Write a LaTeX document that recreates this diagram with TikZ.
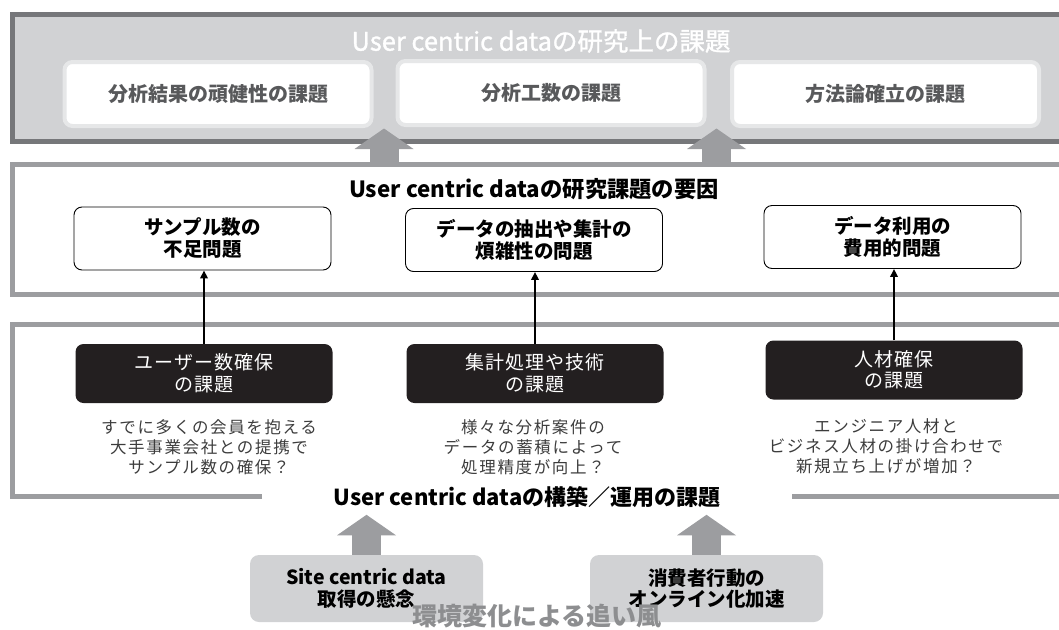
\documentclass[tikz,border=0pt]{standalone}
\usepackage{fontspec}
\setmainfont{Noto Sans CJK JP}
\usetikzlibrary{arrows.meta}
\definecolor{topframe}{HTML}{76777A}
\definecolor{topfill}{HTML}{D1D2D4}
\definecolor{frame}{HTML}{9C9DA0}
\definecolor{boxedge}{HTML}{E6E7E8}
\definecolor{toptext}{HTML}{58595B}
\definecolor{issuefill}{HTML}{231F20}
\definecolor{notetext}{HTML}{3C3C3C}
\definecolor{windtext}{HTML}{8D8E90}
\tikzstyle{panel}=[line width=5pt,draw=frame]
\tikzstyle{topbox}=[rounded corners=8pt,draw=boxedge,line width=4pt,fill=white,minimum width=307pt,minimum height=64pt,text=toptext,font=\fontsize{20}{24}\selectfont\bfseries]
\tikzstyle{cause}=[rounded corners=8pt,draw=black,line width=0.9pt,fill=white,minimum width=257pt,minimum height=63pt,align=center,font=\fontsize{19.5}{22}\selectfont\bfseries]
\tikzstyle{issue}=[rounded corners=8pt,fill=issuefill,minimum width=257pt,minimum height=59pt,align=center,text=white,font=\fontsize{19}{21.5}\selectfont\addfontfeatures{LetterSpace=5}]
\tikzstyle{note}=[align=center,text=notetext,font=\fontsize{16.5}{20}\selectfont\addfontfeatures{LetterSpace=10}]
\tikzstyle{wind}=[rounded corners=9pt,fill=topfill,minimum width=233pt,minimum height=67pt,align=center,font=\fontsize{19.5}{21.5}\selectfont\bfseries]
\tikzstyle{bigarrow}=[draw=frame,line width=29pt,-{Triangle[width=59pt,length=20.5pt,line width=0pt]}]
\tikzstyle{thin}=[line width=1.8pt,-{Triangle[width=7.5pt,length=8pt]}]

\begin{document}
\begin{tikzpicture}[x=1pt,y=-1pt]
			\useasboundingbox (0,0) rectangle (1059,629);
			
			% research issues
			\fill [topfill] (12.5,14.5) rectangle (1062,141.5);
			\draw [panel,draw=topframe] (1062,14.5) -- (12.5,14.5) -- (12.5,141.5) -- (1062,141.5);
			\node (restitle) at (541,41) [text=white,font=\fontsize{25.5}{30}\selectfont\addfontfeatures{FakeBold=1.2}] {User centric dataの研究上の課題};
			\node (res1) at (218,94) [topbox] {分析結果の頑健性の課題};
			\node (res2) at (551,93) [topbox] {分析工数の課題};
			\node (res3) at (885.5,94) [topbox] {方法論確立の課題};
			
			% causes
			\draw [panel] (1062,164.5) -- (12.5,164.5) -- (12.5,294.5) -- (1062,294.5);
			\node (causetitle) at (534,189) [font=\fontsize{22.3}{26}\selectfont\bfseries] {User centric dataの研究課題の要因};
			\node (cause1) at (202.5,238.5) [cause] {サンプル数の\\不足問題};
			\node (cause2) at (534,240) [cause] {データの抽出や集計の\\煩雑性の問題};
			\node (cause3) at (892.5,237) [cause] {データ利用の\\費用的問題};
			
			% build / operation issues
			\draw [panel] (262,496.5) -- (12.5,496.5) -- (12.5,324) -- (1062,324);
			\draw [panel] (792,496.5) -- (1062,496.5);
			\node (buildtitle) at (527,497) [font=\fontsize{22}{26}\selectfont\bfseries] {User centric dataの構築／運用の課題};
			\node (iss1) at (204,373.5) [issue] {ユーザー数確保\\の課題};
			\node (iss2) at (535,373.5) [issue] {集計処理や技術\\の課題};
			\node (iss3) at (894,370) [issue] {人材確保\\の課題};
			\node (note1) at (209,447) [note] {すでに多くの会員を抱える\\大手事業会社との提携で\\サンプル数の確保？};
			\node (note2) at (533,447) [note] {様々な分析案件の\\データの蓄積によって\\処理精度が向上？};
			\node (note3) at (886,446) [note] {エンジニア人材と\\ビジネス人材の掛け合わせで\\新規立ち上げが増加？};
			
			% tailwind
			\node (site) at (366.5,588.5) [wind] {Site centric data\\取得の懸念};
			\node (cons) at (706.5,588.5) [wind] {消費者行動の\\オンライン化加速};
			\node (windtitle) at (537,616) [text=windtext,font=\fontsize{25}{30}\selectfont\bfseries] {環境変化による追い風};
			
			\coordinate (up1) at (384,164.5);
			\coordinate (tip1) at (384,128.5);
			\coordinate (up2) at (716.5,164.5);
			\coordinate (tip2) at (716.5,128.5);
			
			\draw [bigarrow] (up1) -- (tip1);
			\draw [bigarrow] (up2) -- (tip2);
			\draw [bigarrow] (site.north) -- ++(0,-40);
			\draw [bigarrow] (cons.north) -- ++(0,-40);
			
			\draw [thin] (iss1.north) -- (iss1.north |- cause1.south);
			\draw [thin] (iss2.north) -- (iss2.north |- cause2.south);
			\draw [thin] (iss3.north) -- (iss3.north |- cause3.south);
		\end{tikzpicture}
\end{document}
